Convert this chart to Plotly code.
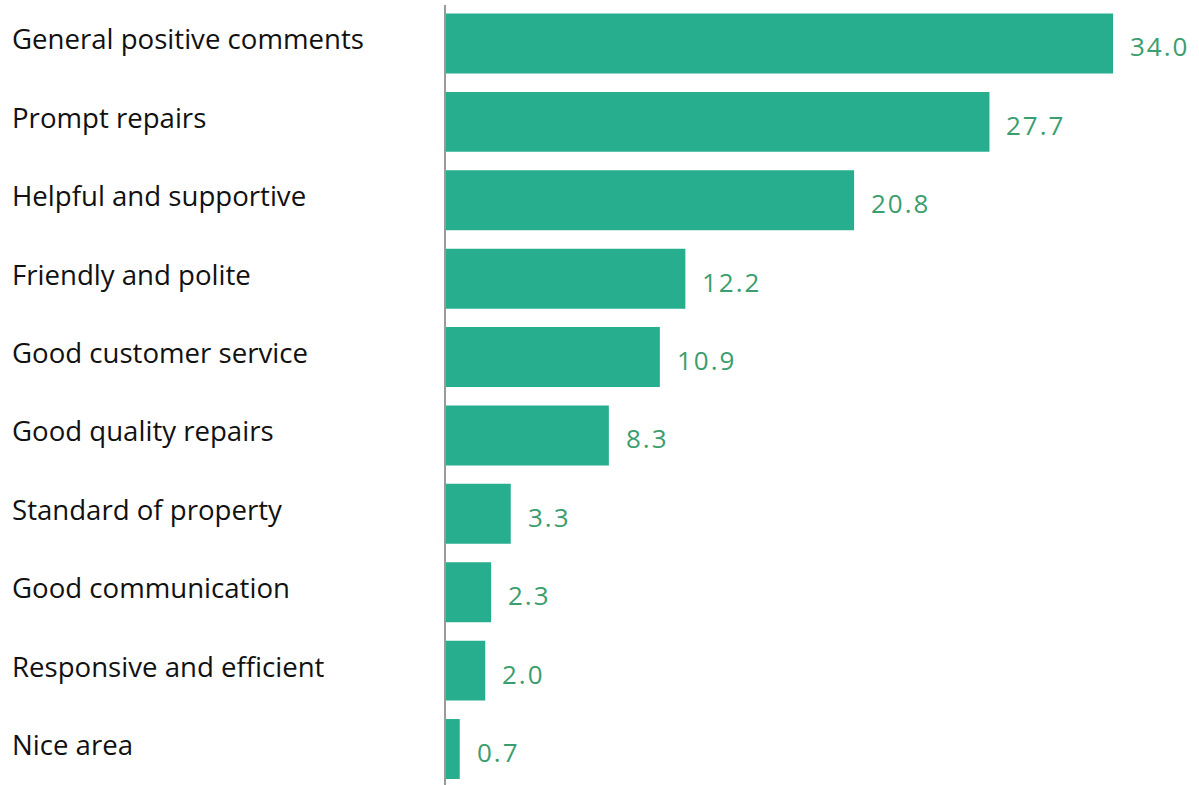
import plotly.graph_objects as go

categories = [
    "General positive comments",
    "Prompt repairs",
    "Helpful and supportive",
    "Friendly and polite",
    "Good customer service",
    "Good quality repairs",
    "Standard of property",
    "Good communication",
    "Responsive and efficient",
    "Nice area",
]
values = [34.0, 27.7, 20.8, 12.2, 10.9, 8.3, 3.3, 2.3, 2.0, 0.7]

BAR_COLOR = "#27AE8F"
VALUE_COLOR = "#3A9E6E"
FONT = "Open Sans"

W, H = 1199, 785
LEFT = 446
pos = list(range(len(categories)))

fig = go.Figure(
    go.Bar(
        x=values,
        y=pos,
        orientation="h",
        marker=dict(color=BAR_COLOR, line=dict(width=0)),
        width=0.765,
        hoverinfo="skip",
    )
)

annotations = []
for i, (cat, v) in enumerate(zip(categories, values)):
    # category label, left aligned in the margin
    annotations.append(dict(
        x=(10 - LEFT) / (W - LEFT), xref="paper", xanchor="left",
        y=i, yref="y", yanchor="middle", yshift=5,
        text=cat, showarrow=False,
        font=dict(family=FONT, size=27.6, color="#111111"),
    ))
    # value label just past the bar end
    annotations.append(dict(
        x=v, xref="x", xanchor="left", xshift=15,
        y=i, yref="y", yanchor="middle", yshift=-3,
        text=f'<span style="letter-spacing:2px">{v:.1f}</span>',
        showarrow=False,
        font=dict(family=FONT, size=26, color=VALUE_COLOR),
    ))

fig.update_layout(
    width=W, height=H,
    margin=dict(l=LEFT, r=0, t=5, b=0),
    paper_bgcolor="white", plot_bgcolor="white",
    showlegend=False,
    xaxis=dict(range=[0, (W - LEFT) / 19.62], visible=False, fixedrange=True),
    yaxis=dict(
        range=[9.459, -0.491],
        showticklabels=False, showgrid=False, zeroline=False,
        ticks="", showline=True, linecolor="#9a9a9a", linewidth=2,
        fixedrange=True,
    ),
    annotations=annotations,
)

fig.write_html("out.html")
